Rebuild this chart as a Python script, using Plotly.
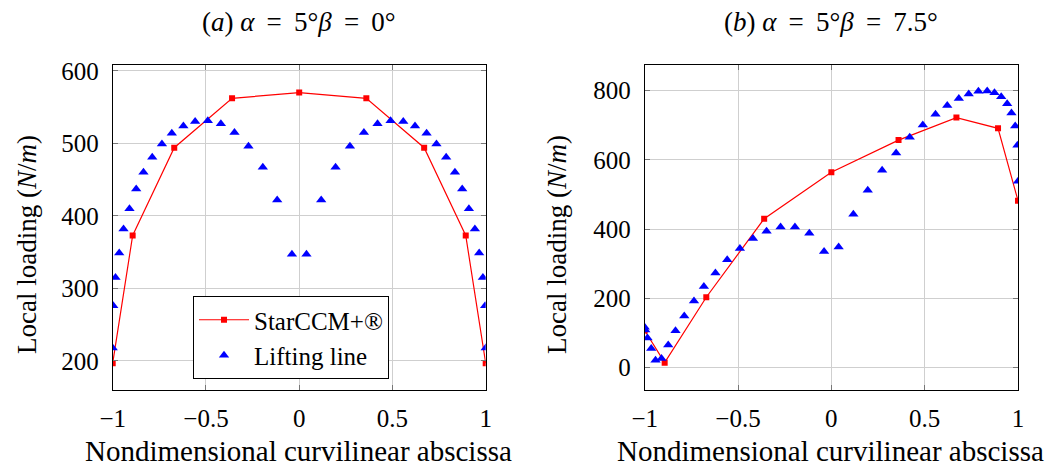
import plotly.graph_objects as go

# ---- data ----
x_star = [-1.0, -0.893, -0.67, -0.36, 0.0, 0.36, 0.67, 0.893, 1.0]
star_a = [197, 373, 494, 562, 570, 562, 494, 373, 197]
star_b = [107, 14, 203, 430, 564, 657, 722, 691, 482]

x_ll = [-1.0, -0.997, -0.985, -0.965, -0.942, -0.910, -0.874, -0.835, -0.788, -0.736,
        -0.683, -0.621, -0.558, -0.490, -0.420, -0.347, -0.272, -0.195, -0.118, -0.039,
        0.039, 0.118, 0.195, 0.272, 0.347, 0.420, 0.490, 0.558, 0.621, 0.683,
        0.736, 0.788, 0.835, 0.874, 0.910, 0.942, 0.965, 0.985, 0.997, 1.0]
ll_a = [218, 276, 315, 349, 382, 410, 437, 460, 481, 499,
        514, 524, 530, 531, 527, 515, 496, 467, 422, 347,
        347, 422, 467, 496, 515, 527, 531, 530, 524, 514,
        499, 481, 460, 437, 410, 382, 349, 315, 276, 218]
ll_b = [116, 108, 85, 55, 21, 26, 65, 106, 149, 192,
        234, 273, 311, 344, 373, 394, 406, 406, 388, 335,
        348, 443, 512, 570, 620, 665, 701, 732, 757, 777,
        790, 798, 799, 794, 782, 762, 735, 698, 642, 538]

x_ticks = [-1, -0.5, 0, 0.5, 1]
x_ticktext = ["\u22121", "\u22120.5", "0", "0.5", "1"]
y_ticks_a = [200, 300, 400, 500, 600]
y_ticks_b = [0, 200, 400, 600, 800]

EQ = " \u2009=\u2009 "
titles = ["(<i>a</i>) <i>\u03b1</i>" + EQ + "5°<i>\u03b2</i>" + EQ + "0°",
          "(<i>b</i>) <i>\u03b1</i>" + EQ + "5°<i>\u03b2</i>" + EQ + "7.5°"]
xlabel = "Nondimensional curvilinear abscissa"
ylabel = "Local loading (<i>N</i>/<i>m</i>)"

W, H = 1048, 468
FONT = "Liberation Serif"
RED = "rgb(255,0,0)"
BLUE = "rgb(0,0,255)"

fig = go.Figure()

fig.add_trace(go.Scatter(x=x_star, y=star_a, mode="lines+markers", name="StarCCM+®",
                         line=dict(color=RED, width=1.2),
                         marker=dict(symbol="square", size=6, color=RED),
                         xaxis="x", yaxis="y", showlegend=True))
fig.add_trace(go.Scatter(x=x_ll, y=ll_a, mode="markers", name="Lifting line",
                         marker=dict(symbol="triangle-up", size=9, color=BLUE),
                         xaxis="x", yaxis="y", showlegend=True))
fig.add_trace(go.Scatter(x=x_star, y=star_b, mode="lines+markers", name="StarCCM+®",
                         line=dict(color=RED, width=1.2),
                         marker=dict(symbol="square", size=6, color=RED),
                         xaxis="x2", yaxis="y2", showlegend=False))
fig.add_trace(go.Scatter(x=x_ll, y=ll_b, mode="markers", name="Lifting line",
                         marker=dict(symbol="triangle-up", size=9, color=BLUE),
                         xaxis="x2", yaxis="y2", showlegend=False))

dom_a = [112.7 / W, 485.7 / W]
dom_b = [644.7 / W, 1018.0 / W]
dom_y = [(H - 390) / H, (H - 65) / H]

common = dict(showline=True, linecolor="black", linewidth=1, mirror="ticks",
              ticks="inside", ticklen=5, tickcolor="#777777", tickwidth=1,
              showgrid=True, gridcolor="#cfcfcf", gridwidth=1, zeroline=False,
              automargin=False,
              tickfont=dict(family=FONT, size=25, color="black"))

fig.update_layout(
    width=W, height=H,
    margin=dict(l=0, r=0, t=0, b=0, pad=0, autoexpand=False),
    paper_bgcolor="white", plot_bgcolor="white",
    font=dict(family=FONT, color="black"),
    xaxis=dict(domain=dom_a, range=[-1, 1], tickvals=x_ticks, ticktext=x_ticktext,
               anchor="y", ticklabelstandoff=6, **common),
    yaxis=dict(domain=dom_y, range=[160, 608], tickvals=y_ticks_a, anchor="x",
               ticklabelstandoff=8, **common),
    xaxis2=dict(domain=dom_b, range=[-1, 1], tickvals=x_ticks, ticktext=x_ticktext,
                anchor="y2", ticklabelstandoff=6, **common),
    yaxis2=dict(domain=dom_y, range=[-65, 874], tickvals=y_ticks_b, anchor="x2",
                ticklabelstandoff=8, **common),
    legend=dict(x=193 / W, y=1 - 296 / H, xanchor="left", yanchor="top",
                bordercolor="black", borderwidth=1, bgcolor="white",
                font=dict(family=FONT, size=25, color="black"),
                tracegroupgap=0, itemwidth=50),
)

ann = []
for cx, t in zip([298.5 / W, 831.3 / W], titles):
    ann.append(dict(x=cx, y=1 - 22 / H, xref="paper", yref="paper", text=t,
                    showarrow=False, xanchor="center", yanchor="middle",
                    font=dict(family=FONT, size=27, color="black")))
for cx in [298.5 / W, 830 / W]:
    ann.append(dict(x=cx, y=1 - 451 / H, xref="paper", yref="paper", text=xlabel,
                    showarrow=False, xanchor="center", yanchor="middle",
                    font=dict(family=FONT, size=29, color="black")))
for cx in [27 / W, 557 / W]:
    ann.append(dict(x=cx, y=1 - 245 / H, xref="paper", yref="paper", text=ylabel,
                    showarrow=False, xanchor="center", yanchor="middle", textangle=-90,
                    font=dict(family=FONT, size=27, color="black")))
fig.update_layout(annotations=ann)

fig.write_html("out.html",
               config={"displayModeBar": False},
               post_script="document.body.style.margin='0';document.body.style.padding='0';")
